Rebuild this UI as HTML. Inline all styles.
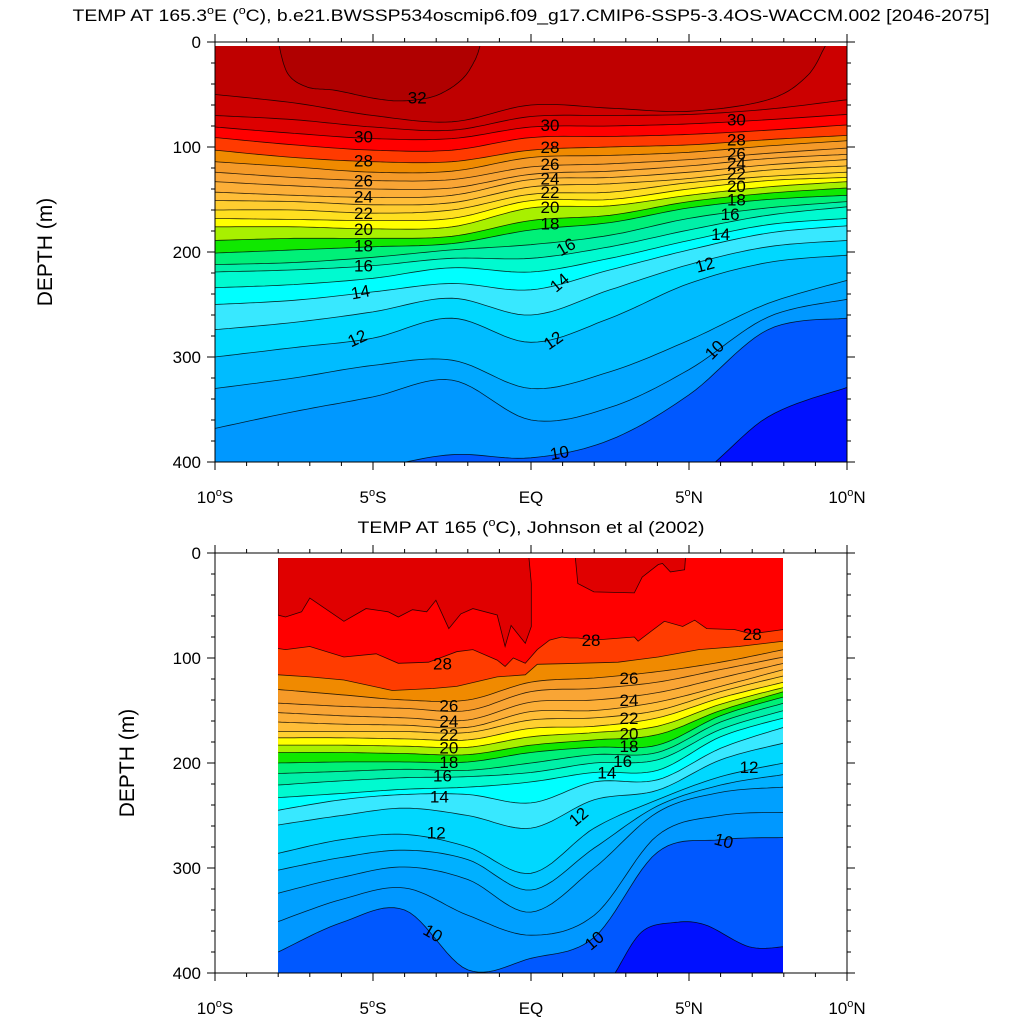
<!DOCTYPE html>
<html><head><meta charset="utf-8">
<style>
html,body{margin:0;padding:0;background:#fff;width:1024px;height:1024px;overflow:hidden;}
svg{display:block;font-family:"Liberation Sans",Arial,sans-serif;}
</style></head>
<body>
<svg id="chart" xmlns="http://www.w3.org/2000/svg" width="1024" height="1024" viewBox="0 0 1024 1024">
<rect x="0" y="0" width="1024" height="1024" fill="#fff"/>
<defs>
<clipPath id="clipTop"><rect x="215" y="46" width="632" height="416"/></clipPath>
<clipPath id="clipBot"><rect x="278" y="558" width="505" height="415"/></clipPath>
</defs>
<text x="531" y="21" font-size="17" text-anchor="middle" textLength="917" lengthAdjust="spacingAndGlyphs">TEMP AT 165.3<tspan font-size="11" dy="-7">o</tspan><tspan dy="7">E (</tspan><tspan font-size="11" dy="-7">o</tspan><tspan dy="7">C), b.e21.BWSSP534oscmip6.f09_g17.CMIP6-SSP5-3.4OS-WACCM.002 [2046-2075]</tspan></text>
<text x="531" y="533" font-size="17" text-anchor="middle" textLength="347" lengthAdjust="spacingAndGlyphs">TEMP AT 165 (<tspan font-size="11" dy="-7">o</tspan><tspan dy="7">C), Johnson et al (2002)</tspan></text>
<text transform="translate(52,252) rotate(-90)" font-size="21" text-anchor="middle">DEPTH (m)</text>
<text transform="translate(134,763) rotate(-90)" font-size="21" text-anchor="middle">DEPTH (m)</text>
<g id="topPanel"></g>
<g id="botPanel"></g>
</svg>
<script>
// ---------- data (depths in metres) ----------
const latsTop=[-10,-7.5,-5,-2.5,0,2.5,5,7.5,10];
const lobeLats=[-8.0,-7.7,-7.07,-6.2,-4.9,-4.0,-3.0,-2.2,-1.77,-1.58];
const lobeDepths=[0,30,43,46,54,56,51,36,17,0];
const topALats=[-10,-7.5,-5,-2.5,0,2.5,5,7.5,8.75,9.4,10];
const topADepths=[50,58,70,76,60,63,66,55,32,0,-15];
const top31=[70,74,81,84,71,70,69,64,55];
const top30=[81,87,92,92,81,80,78,74,69];
const top29=[91,98,103,103,91,90,88,84,79];
const top28=[103,110,114,114,103,100,98,93,89];
const top27=[114,119,124,123,110,108,105,99,94];
const top26=[124,129,132,131,119,116,112,106,101];
const top25=[133,137,140,139,126,123,118,111,107];
const top24=[143,146,148,146,131,129,124,117,112];
const top23=[151,152,155,153,138,135,130,122,118];
const top22=[160,160,163,160,145,143,134,128,124];
const top21=[168,169,170,168,151,150,140,132,129];
const top20=[176,176,178,176,158,156,146,138,133];
const top19=[189,187,187,185,170,165,152,144,139];
const top18=[201,198,195,192,179,172,158,150,146];
const top17=[212,210,205,198,193,184,168,158,152];
const top16=[219,217,213,206,206,195,179,165,157];
const top15=[234,231,225,215,219,206,189,174,168];
const top14=[250,246,238,230,236,217,198,182,175];
const top13=[274,267,257,244,260,236,212,195,189];
const top12=[300,291,282,263,286,263,230,210,203];
const top11=[330,320,308,303,330,314,284,249,227];
const top10b=[368,352,338,322,360,348,312,262,245];
const top10=[427,417,406,393,396,379,336,274,263];
const top9=[440,440,440,440,440,430,418,357,329];

const latsBot=[-8,-6,-4,-2,0,2,4,6,8];
const warmPiece1Lats=[-8.01,-8.01,-7.77,-7.26,-7.0,-5.92,-5.22,-4.52,-4.2,-3.75,-3.3,-3.01,-2.6,-2.22,-1.84,-1.07,-0.82,-0.63,-0.18,0.01,0.01,-0.08];
const warmPiece1Depths=[0,59,61,56,43,65,53,56,61,54,56,45,72,58,53,59,89,69,86,70,29,0];
const warmPiece2Lats=[1.39,1.48,1.99,3.27,3.52,4.03,4.16,4.41,4.86,4.9];
const warmPiece2Depths=[0,29,37,38,23,11,10,18,16,0];
const bot28Lats=[-8.01,-7.77,-7.0,-5.92,-4.9,-4.2,-3.24,-2.35,-1.84,-1.07,-0.82,-0.56,-0.18,0.2,0.59,0.97,1.22,1.48,1.99,3.27,3.39,3.78,4.22,4.8,5.18,5.56,6.45,6.96,7.98];
const bot28Depths=[91,92,89,99,96,105,104,94,92,102,108,100,105,92,83,80,81,81,83,80,84,75,65,70,64,72,73,77,73];
const bot27Lats=[-8.01,-7.0,-5.92,-4.39,-3.11,-2.35,-1.07,-0.18,0.2,1.48,2.76,4.03,5.31,6.58,7.98];
const bot27Depths=[116,118,121,131,129,127,118,116,106,105,104,99,92,89,84];
const bot26=[130,135,140,140,123,119,113,104,92];
const bot25=[143,146,148,150,132,129,123,111,99];
const bot24=[152,155,157,159,142,140,133,119,105];
const bot23=[161,163,164,166,151,150,142,127,111];
const bot22=[170,170,170,171,159,157,150,132,117];
const bot21=[176,176,177,178,167,165,157,138,123];
const bot20=[183,183,184,185,175,171,165,144,128];
const bot19=[190,190,191,192,183,178,173,150,132];
const bot18=[200,199,199,199,190,185,183,155,137];
const bot17=[210,208,206,207,200,192,190,161,143];
const bot16=[221,217,214,213,209,200,197,168,150];
const bot15=[233,229,225,223,218,209,207,175,157];
const bot14=[245,235,230,230,238,218,216,186,166];
const bot13=[259,250,243,250,262,235,226,197,181];
const bot12=[286,273,268,280,305,262,235,213,200];
const bot11b=[302,290,283,292,321,281,241,221,211];
const bot11=[324,309,299,311,342,300,247,228,223];
const bot10b=[351,330,319,345,364,345,269,250,247];
const bot10=[380,352,340,397,386,366,285,273,271];
const bot9Lats=[2.4,2.66,3.5,4.5,5.5,6.9,8];
const bot9Depths=[412,400,361,352,354,375,375];

const depthTicks=[0,100,200,300,400];
const latTicks=[-10,-5,0,5,10];
const latTickLabels=["10","5","EQ","5","10"];
const latTickSuffix=["S","S","","N","N"];

// ---------- helpers ----------
const NS="http://www.w3.org/2000/svg";
const FLOOR=410;
function xOf(lat){return 215+(lat+10)*31.6;}
function yTop(d){return 42+d*1.05;}
function yBot(d){return 553+d*1.05;}
function mk(tag,attrs,parent){const e=document.createElementNS(NS,tag);for(const k in attrs)e.setAttribute(k,attrs[k]);parent.appendChild(e);return e;}
function curve(lats,deps,smooth){
  const P=lats.map((l,i)=>[l,deps[i]]);
  if(!smooth||P.length<3)return P;
  const out=[];
  for(let i=0;i<P.length-1;i++){
    const p0=P[Math.max(0,i-1)],p1=P[i],p2=P[i+1],p3=P[Math.min(P.length-1,i+2)];
    for(let s=0;s<12;s++){const t=s/12,t2=t*t,t3=t2*t;
      const f=(a,b,c,d)=>0.5*((2*b)+(-a+c)*t+(2*a-5*b+4*c-d)*t2+(-a+3*b-3*c+d)*t3);
      out.push([f(p0[0],p1[0],p2[0],p3[0]),f(p0[1],p1[1],p2[1],p3[1])]);}
  }
  out.push(P[P.length-1]);return out;
}
function clampPts(pts){return pts.map(p=>[p[0],Math.max(-5,Math.min(FLOOR,p[1]))]);}
function ptsStr(pts,yf){return pts.map(p=>xOf(p[0]).toFixed(1)+","+yf(p[1]).toFixed(1)).join(" ");}

function drawPanel(panel,clipId,yf,bgColor,bgName,closed,layers){
  const fills=mk("g",{"clip-path":"url(#"+clipId+")"},panel);
  
  
  const r=mk("rect",{x:215,y:yf(0),width:632,height:yf(400)-yf(0),fill:bgColor},fills);
  
  
  const lines=[];
  closed.forEach(c=>{
    const pts=clampPts(curve(c.lats,c.deps,c.smooth));
    const pg=mk("polygon",{points:ptsStr(pts,yf),fill:c.color},fills);
    
    
    lines.push({pts:pts,name:c.name+'-line'});
  });
  layers.forEach(L=>{
    const pts=clampPts(curve(L.lats,L.deps,L.smooth));
    const poly=pts.concat([[pts[pts.length-1][0],FLOOR],[pts[0][0],FLOOR]]);
    const pg=mk("polygon",{points:ptsStr(poly,yf),fill:L.color},fills);
    
    
    lines.push({pts:pts,name:L.name+'-isotherm'});
  });
  const lg=mk("g",{"clip-path":"url(#"+clipId+")",fill:"none",stroke:"#000","stroke-width":"0.8","stroke-opacity":"0.8"},panel);
  
  
  lines.forEach(l=>{
    const pl=mk("polyline",{points:ptsStr(l.pts,yf)},lg);
    
    
  });
}

function drawAxes(panel,yf,xLabelY,prefix){
  const ax=mk("g",{stroke:"#000","stroke-width":"1",fill:"none"},panel);
  
  
  const y0=yf(0),y1=yf(400);
  const fr=mk("rect",{x:215,y:y0,width:632,height:y1-y0},ax);
  
  
  for(let d=0;d<=400;d+=20){const len=(d%100===0)?8:4;const y=yf(d);
    mk("line",{x1:215-len,y1:y,x2:215,y2:y},ax);mk("line",{x1:847,y1:y,x2:847+len,y2:y},ax);}
  for(let l=-10;l<=10;l++){const len=(l%5===0)?8:4;const x=xOf(l);
    mk("line",{x1:x,y1:y0-len,x2:x,y2:y0},ax);mk("line",{x1:x,y1:y1,x2:x,y2:y1+len},ax);}
  depthTicks.forEach(d=>{
    const t=mk("text",{x:201,y:yf(d)+6,"font-size":"17","text-anchor":"end",fill:"#000"},panel);
    
    
    t.textContent=String(d);
  });
  latTicks.forEach((l,i)=>{
    const t=mk("text",{x:xOf(l),y:xLabelY,"font-size":"17","text-anchor":"middle",fill:"#000"},panel);
    
    
    if(latTickSuffix[i]===""){t.textContent=latTickLabels[i];}
    else{
      const a=mk("tspan",{},t);a.textContent=latTickLabels[i];
      const b=mk("tspan",{"font-size":"11",dy:"-7"},t);b.textContent="o";
      const c=mk("tspan",{dy:"7"},t);c.textContent=latTickSuffix[i];
    }
  });
}
function labels(panel,yf,list,prefix){
  list.forEach(L=>{
    const t=mk("text",{x:xOf(L[1]),y:yf(L[2])+6,"font-size":"17","text-anchor":"middle",fill:"#000",transform:"rotate("+(L[3]||0)+" "+xOf(L[1])+" "+yf(L[2])+")"},panel);
    
    
    t.textContent=L[0];
  });
}

// ---------- top panel ----------
const topP=document.getElementById("topPanel");
const TL=(n,d,c)=>({name:n,lats:latsTop,deps:d,color:c,smooth:true});
drawPanel(topP,"clipTop",yTop,"#bf0000","top-surface-band",
 [{name:"warm-core-lobe",lats:lobeLats,deps:lobeDepths,color:"#b00000",smooth:true}],
 [{name:"top-iso-32",lats:topALats,deps:topADepths,color:"#cc0000",smooth:true},
  TL("top-iso-31",top31,"#dd0000"),TL("top-iso-30",top30,"#ff0000"),TL("top-iso-29",top29,"#ff3a00"),
  TL("top-iso-28",top28,"#f08a00"),TL("top-iso-27",top27,"#f59a28"),TL("top-iso-26",top26,"#f9a535"),
  TL("top-iso-25",top25,"#fcaf38"),TL("top-iso-24",top24,"#ffbe38"),TL("top-iso-23",top23,"#ffcd30"),
  TL("top-iso-22",top22,"#ffe020"),TL("top-iso-21",top21,"#ffff00"),TL("top-iso-20",top20,"#a8f000"),
  TL("top-iso-19",top19,"#10e800"),TL("top-iso-18",top18,"#00f078"),TL("top-iso-17",top17,"#00f0a8"),
  TL("top-iso-16",top16,"#00fad0"),TL("top-iso-15",top15,"#00ffff"),TL("top-iso-14",top14,"#38e8ff"),
  TL("top-iso-13",top13,"#00d8ff"),TL("top-iso-12",top12,"#00bcff"),TL("top-iso-11",top11,"#00a8ff"),
  TL("top-iso-10b",top10b,"#0098ff"),
  TL("top-iso-10",top10,"#0058ff"),TL("top-iso-9",top9,"#0010ff")]);
drawAxes(topP,yTop,503,"top");
labels(topP,yTop,[["32",-3.6,53],["30",-5.3,90],["30",0.6,79],["30",6.5,74],["28",-5.3,113],["28",0.6,100],["28",6.5,93],
 ["26",-5.3,132],["26",0.6,116],["26",6.5,106],["24",-5.3,147],["24",0.6,130],["24",6.5,115],["22",-5.3,163],["22",0.6,143],["22",6.5,125],
 ["20",-5.3,178],["20",0.6,157],["20",6.5,137],["18",-5.3,194],["18",0.6,173],["18",6.5,150],["16",-5.3,213],["16",1.1,195,-30],["16",6.3,164],
 ["14",-5.4,238,-10],["14",0.9,229,-40],["14",6.0,183],["12",-5.5,282,-25],["12",0.7,284,-35],["12",5.5,212,-15],["10",5.8,293,-45],["10",0.9,391,-10]],"top");

// ---------- bottom panel ----------
const botP=document.getElementById("botPanel");
const BL=(n,d,c)=>({name:n,lats:latsBot,deps:d,color:c,smooth:true});
drawPanel(botP,"clipBot",yBot,"#ff0000","bottom-surface-band",
 [{name:"warm-pool-west",lats:warmPiece1Lats,deps:warmPiece1Depths,color:"#e00000",smooth:false},
  {name:"warm-pool-east",lats:warmPiece2Lats,deps:warmPiece2Depths,color:"#e00000",smooth:false}],
 [{name:"bot-iso-28",lats:bot28Lats,deps:bot28Depths,color:"#ff3c00",smooth:false},
  {name:"bot-iso-27",lats:bot27Lats,deps:bot27Depths,color:"#f08a00",smooth:false},
  BL("bot-iso-26",bot26,"#f59a28"),BL("bot-iso-25",bot25,"#f9a535"),BL("bot-iso-24",bot24,"#fcaf38"),
  BL("bot-iso-23",bot23,"#ffbe38"),BL("bot-iso-22",bot22,"#ffd030"),BL("bot-iso-21",bot21,"#ffff00"),
  BL("bot-iso-20",bot20,"#a8f000"),BL("bot-iso-19",bot19,"#10e800"),BL("bot-iso-18",bot18,"#00f078"),
  BL("bot-iso-17",bot17,"#00f0a8"),BL("bot-iso-16",bot16,"#00fad0"),BL("bot-iso-15",bot15,"#00ffff"),
  BL("bot-iso-14",bot14,"#38e8ff"),BL("bot-iso-13",bot13,"#00d8ff"),BL("bot-iso-12",bot12,"#00c4ff"),
  BL("bot-iso-11b",bot11b,"#00b0ff"),BL("bot-iso-11",bot11,"#00a0ff"),BL("bot-iso-10b",bot10b,"#0098ff"),
  BL("bot-iso-10",bot10,"#0058ff"),
  {name:"bot-iso-9",lats:bot9Lats,deps:bot9Depths,color:"#0010ff",smooth:true}]);
drawAxes(botP,yBot,1014,"bottom");
labels(botP,yBot,[["28",-2.8,105],["28",1.9,83],["28",7.0,77],["26",-2.6,145],["26",3.1,119],["24",-2.6,160],["24",3.1,140],
 ["22",-2.6,173],["22",3.1,157],["20",-2.6,185],["20",3.1,172],["18",-2.6,199],["18",3.1,184],["16",-2.8,212],["16",2.9,198],
 ["14",-2.9,232],["14",2.4,209],["12",-3.0,266],["12",1.5,251,-40],["12",6.9,204],["10",-3.1,362,30],["10",2.0,369,-40],["10",6.1,274,15]],"bottom");
</script>
</body></html>
